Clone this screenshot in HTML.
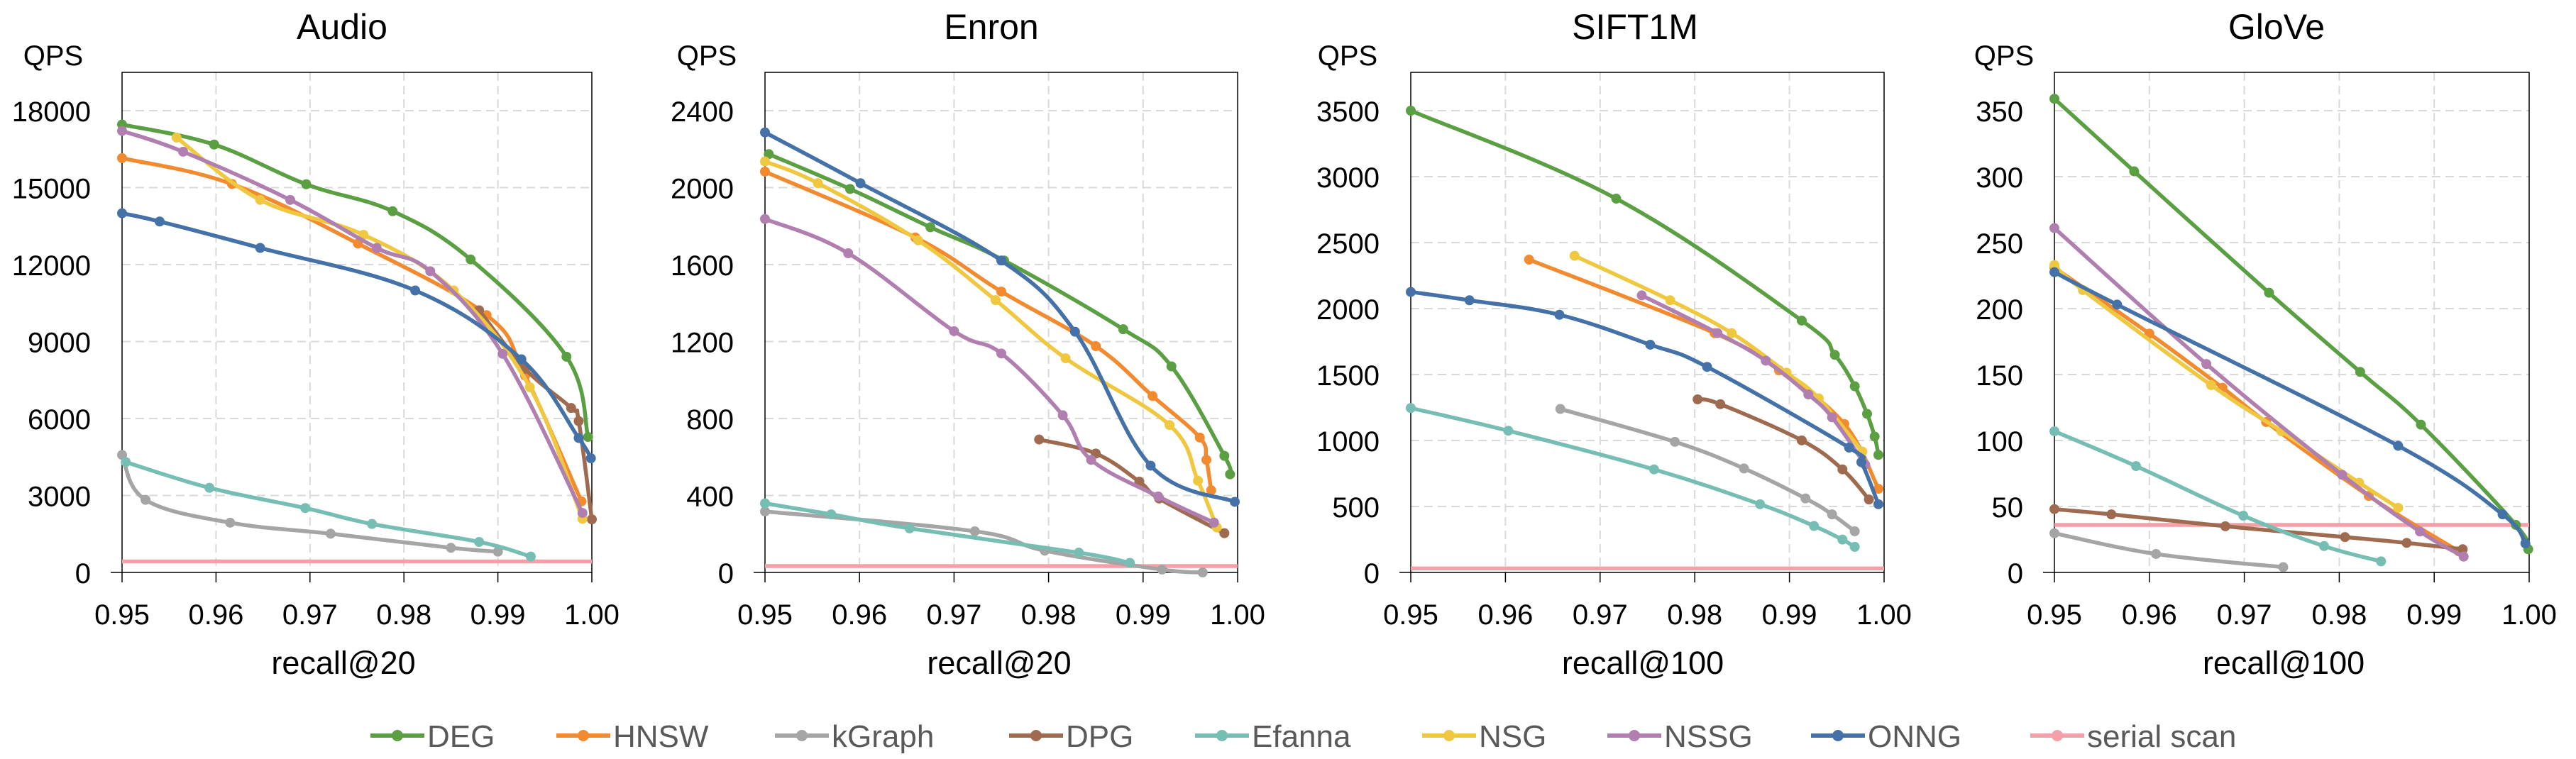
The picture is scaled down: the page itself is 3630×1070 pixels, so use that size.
<!DOCTYPE html>
<html><head><meta charset="utf-8">
<style>
html,body{margin:0;padding:0;background:#fff;}
svg{display:block;font-family:"Liberation Sans",sans-serif;}
</style></head>
<body>
<svg id="chart" width="3630" height="1070" viewBox="0 0 3630 1070" xmlns="http://www.w3.org/2000/svg"></svg>
<script>
const seriesNames = ["DEG","HNSW","kGraph","DPG","Efanna","NSG","NSSG","ONNG","serial scan"];
const seriesColors = ["#5B9F43","#F28B30","#A5A5A5","#9E6B50","#76BDB4","#F0C840","#B07FB0","#4472A8","#F4A0A8"];
const xTickLabels = ["0.95","0.96","0.97","0.98","0.99","1.00"];

// Audio
const audioYTicks = [0,3000,6000,9000,12000,15000,18000];
const audioDEG = [[0.95,17460],[0.9598,16680],[0.9696,15130],[0.9788,14080],[0.9871,12200],[0.9973,8410],[0.9996,5280]];
const audioHNSW = [[0.95,16150],[0.9617,15140],[0.9751,12820],[0.9888,10030],[0.9929,7670],[0.9989,2770]];
const audioKGraph = [[0.95,4580],[0.9525,2830],[0.9615,1940],[0.9722,1510],[0.985,960],[0.99,810]];
const audioDPG = [[0.988,10220],[0.9929,7940],[0.9978,6410],[0.9986,5900],[1.0,2070]];
const audioEfanna = [[0.9504,4300],[0.9593,3300],[0.9695,2510],[0.9766,1890],[0.988,1190],[0.9935,620]];
const audioNSG = [[0.9558,16950],[0.9647,14520],[0.9757,13160],[0.9853,10990],[0.9934,7220],[0.999,2090]];
const audioNSSG = [[0.95,17210],[0.9565,16400],[0.9679,14520],[0.9771,12650],[0.9828,11740],[0.9905,8520],[0.999,2320]];
const audioONNG = [[0.95,14000],[0.954,13680],[0.9647,12650],[0.9812,10990],[0.9925,8310],[0.9986,5240],[0.9999,4450]];
const audioSerial = 430;

// Enron
const enronYTicks = [0,400,800,1200,1600,2000,2400];
const enronDEG = [[0.9504,2174],[0.959,1993],[0.9675,1794],[0.9753,1621],[0.9879,1264],[0.993,1071],[0.9986,606],[0.9992,510]];
const enronHNSW = [[0.95,2083],[0.9659,1741],[0.975,1460],[0.985,1176],[0.991,917],[0.996,701],[0.9967,585],[0.9972,427]];
const enronKGraph = [[0.95,317],[0.9722,214],[0.9796,113],[0.992,15],[0.9963,0]];
const enronDPG = [[0.979,691],[0.985,618],[0.9896,472],[0.9917,384],[0.9986,204]];
const enronEfanna = [[0.95,359],[0.957,302],[0.9653,229],[0.9832,103],[0.9886,50]];
const enronNSG = [[0.95,2136],[0.9556,2023],[0.9662,1726],[0.9744,1415],[0.9818,1113],[0.9928,766],[0.9958,477],[0.9978,234]];
const enronNSSG = [[0.95,1837],[0.9588,1659],[0.97,1254],[0.975,1138],[0.9815,817],[0.9845,585],[0.9916,395],[0.9975,259]];
const enronONNG = [[0.95,2287],[0.9601,2023],[0.975,1621],[0.9828,1251],[0.9908,555],[0.9997,367]];
const enronSerial = 33;

// SIFT1M
const siftYTicks = [0,500,1000,1500,2000,2500,3000,3500];
const siftDEG = [[0.95,3500],[0.9717,2833],[0.9913,1909],[0.9948,1649],[0.9969,1411],[0.9982,1202],[0.999,1030],[0.9994,891]];
const siftHNSW = [[0.9625,2371],[0.9821,1814],[0.9889,1532],[0.9958,1125],[0.9994,634]];
const siftKGraph = [[0.9658,1239],[0.9779,990],[0.9852,788],[0.9917,561],[0.9945,440],[0.9969,312]];
const siftDPG = [[0.9803,1312],[0.9827,1275],[0.9913,1001],[0.9956,781],[0.9984,553]];
const siftEfanna = [[0.95,1246],[0.9603,1074],[0.9757,781],[0.9869,517],[0.9926,352],[0.9956,249],[0.9969,194]];
const siftNSG = [[0.9673,2400],[0.9774,2063],[0.9839,1814],[0.9897,1514],[0.9931,1319],[0.9977,916]];
const siftNSSG = [[0.9744,2100],[0.9824,1814],[0.9875,1605],[0.992,1349],[0.9945,1176],[0.998,817]];
const siftONNG = [[0.95,2126],[0.9562,2063],[0.9657,1953],[0.9753,1726],[0.9813,1558],[0.9963,946],[0.9976,836],[0.9994,517]];
const siftSerial = 30;

// GloVe
const gloveYTicks = [0,50,100,150,200,250,300,350];
const gloveDEG = [[0.95,359],[0.9584,304],[0.9726,212],[0.9822,152],[0.9886,112],[0.9986,36],[0.9999,17.6]];
const gloveHNSW = [[0.95,231],[0.96,181],[0.9677,140],[0.9723,114],[0.9831,58],[0.9926,16]];
const gloveKGraph = [[0.95,29.7],[0.9607,14],[0.9741,4]];
const gloveDPG = [[0.95,48],[0.956,44],[0.968,35],[0.9806,26.8],[0.9871,22.4],[0.993,17.6]];
const gloveEfanna = [[0.95,107],[0.9586,80.6],[0.9699,43],[0.9784,20],[0.9844,8.4]];
const gloveNSG = [[0.95,233],[0.953,214],[0.9665,142],[0.9739,107],[0.9821,68],[0.9862,49]];
const gloveNSSG = [[0.95,261],[0.966,158],[0.9803,74],[0.9885,31],[0.9931,12]];
const gloveONNG = [[0.95,227.6],[0.9566,203],[0.9862,96],[0.9972,44],[0.9996,22]];
const gloveSerial = 36;

const NS = "http://www.w3.org/2000/svg";
const svg = document.getElementById("chart");
function mk(tag, attrs, parent){
  const e = document.createElementNS(NS, tag);
  for (const k in attrs) e.setAttribute(k, attrs[k]);
  (parent||svg).appendChild(e);
  return e;
}
function smoothPath(pts){
  if (pts.length < 2) return "";
  let d = "M" + pts[0][0] + "," + pts[0][1];
  for (let i = 0; i < pts.length - 1; i++){
    const p0 = pts[i-1] || pts[i], p1 = pts[i], p2 = pts[i+1], p3 = pts[i+2] || p2;
    const t = 0.18;
    const c1 = [p1[0] + (p2[0]-p0[0])*t, p1[1] + (p2[1]-p0[1])*t];
    const c2 = [p2[0] - (p3[0]-p1[0])*t, p2[1] - (p3[1]-p1[1])*t];
    d += " C" + c1[0] + "," + c1[1] + " " + c2[0] + "," + c2[1] + " " + p2[0] + "," + p2[1];
  }
  return d;
}

function panel(cfg){
  const g = mk("g", {});
  
  
  const L = cfg.left, R = cfg.right, T = 102, B = 807, TT = 156;
  const yTop = cfg.yTicks[cfg.yTicks.length-1];
  const yMax = yTop * (B - T) / (B - TT);
  const xs = v => L + (v - 0.95) / 0.05 * (R - L);
  const ys = v => B - v / yMax * (B - T);
  cfg.yTicks.forEach((v, i) => {
    if (i === 0) return;
    const gl = mk("line", {x1:L, x2:R, y1:ys(v), y2:ys(v), stroke:"#d9d9d9", "stroke-width":2, "stroke-dasharray":"12,7"}, g);
    
    
  });
  xTickLabels.forEach((lab, i) => {
    const x = xs(parseFloat(lab));
    if (i > 0 && i < xTickLabels.length - 1) {
      const gl = mk("line", {x1:x, x2:x, y1:T, y2:B, stroke:"#d9d9d9", "stroke-width":2, "stroke-dasharray":"12,7"}, g);
      
      
    }
    const tk = mk("line", {x1:x, x2:x, y1:B, y2:B+14, stroke:"#000", "stroke-width":1.5}, g);
    
    
    const t = mk("text", {x:x, y:880, "text-anchor":"middle", "font-size":40, fill:"#000"}, g);
    t.textContent = lab;
    
    
  });
  cfg.yTicks.forEach(v => {
    const t = mk("text", {x:L-44, y:ys(v)+15, "text-anchor":"end", "font-size":40, fill:"#000"}, g);
    t.textContent = v;
    
    
  });
  const z = mk("line", {x1:L-16, x2:L, y1:B, y2:B, stroke:"#000", "stroke-width":1.5}, g);
  
  
  const frame = mk("rect", {x:L, y:T, width:R-L, height:B-T, fill:"none", stroke:"#000", "stroke-width":1.5}, g);
  
  
  const sl = mk("line", {x1:L, x2:R, y1:ys(cfg.serial), y2:ys(cfg.serial), stroke:seriesColors[8], "stroke-width":5.5}, g);
  
  
  cfg.series.forEach((data, si) => {
    const pts = data.map(p => [xs(p[0]), ys(p[1])]);
    const sg = mk("g", {}, g);
    
    
    const path = mk("path", {d:smoothPath(pts), fill:"none", stroke:seriesColors[si], "stroke-width":5.5, "stroke-linejoin":"round", "stroke-linecap":"round"}, sg);
    
    
    pts.forEach(p => {
      const c = mk("circle", {cx:p[0], cy:p[1], r:7, fill:seriesColors[si]}, sg);
      
      
    });
  });
  const title = mk("text", {x:cfg.titleX, y:55, "text-anchor":"middle", "font-size":50, fill:"#000"}, g);
  title.textContent = cfg.title;
  
  
  const q = mk("text", {x:cfg.qpsX, y:92, "text-anchor":"middle", "font-size":40, fill:"#000"}, g);
  q.textContent = "QPS";
  
  
  const xl = mk("text", {x:cfg.xlabX, y:950, "text-anchor":"middle", "font-size":45, fill:"#000"}, g);
  xl.textContent = cfg.xlabel;
  
  
}

panel({id:"audio", title:"Audio", left:172, right:834, titleX:482, qpsX:75, xlabX:484, xlabel:"recall@20", yTicks:audioYTicks, serial:audioSerial,
  series:[audioDEG,audioHNSW,audioKGraph,audioDPG,audioEfanna,audioNSG,audioNSSG,audioONNG]});
panel({id:"enron", title:"Enron", left:1078, right:1744, titleX:1397, qpsX:996, xlabX:1408, xlabel:"recall@20", yTicks:enronYTicks, serial:enronSerial,
  series:[enronDEG,enronHNSW,enronKGraph,enronDPG,enronEfanna,enronNSG,enronNSSG,enronONNG]});
panel({id:"sift1m", title:"SIFT1M", left:1988, right:2655, titleX:2304, qpsX:1899, xlabX:2315, xlabel:"recall@100", yTicks:siftYTicks, serial:siftSerial,
  series:[siftDEG,siftHNSW,siftKGraph,siftDPG,siftEfanna,siftNSG,siftNSSG,siftONNG]});
panel({id:"glove", title:"GloVe", left:2895, right:3564, titleX:3208, qpsX:2824, xlabX:3218, xlabel:"recall@100", yTicks:gloveYTicks, serial:gloveSerial,
  series:[gloveDEG,gloveHNSW,gloveKGraph,gloveDPG,gloveEfanna,gloveNSG,gloveNSSG,gloveONNG]});

const legendX = [522,784,1092,1422,1684,2004,2265,2552,2861];
const lg = mk("g", {});


seriesNames.forEach((n, i) => {
  const eg = mk("g", {}, lg);
  
  
  const x = legendX[i], y = 1037;
  mk("line", {x1:x, x2:x+76, y1:y, y2:y, stroke:seriesColors[i], "stroke-width":6}, eg);
  mk("circle", {cx:x+38, cy:y, r:8, fill:seriesColors[i]}, eg);
  const t = mk("text", {x:x+80, y:y+16, "font-size":44, fill:"#595959"}, eg);
  t.textContent = n;
});
</script>
</body></html>
